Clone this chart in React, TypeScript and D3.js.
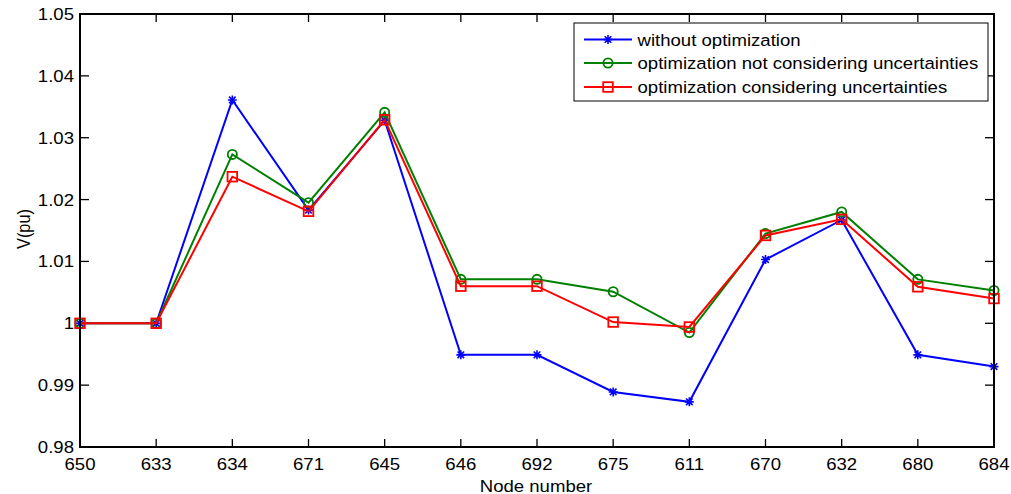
import React from "react";
import * as d3 from "d3";

const nodes = ["650", "633", "634", "671", "645", "646", "692", "675", "611", "670", "632", "680", "684"];
const withoutOpt = [1.0, 1.0, 1.0361, 1.0183, 1.0328, 0.9949, 0.9949, 0.9889, 0.9873, 1.0103, 1.0167, 0.9949, 0.993];
const optNoUnc = [1.0, 1.0, 1.0273, 1.0195, 1.0341, 1.0071, 1.0071, 1.0051, 0.9985, 1.0145, 1.018, 1.0071, 1.0053];
const optUnc = [1.0, 1.0, 1.0237, 1.0181, 1.0329, 1.006, 1.006, 1.0002, 0.9994, 1.0142, 1.0168, 1.0059, 1.004];
const yTicks = [0.98, 0.99, 1.0, 1.01, 1.02, 1.03, 1.04, 1.05];
const yTickLabels = ["0.98", "0.99", "1", "1.01", "1.02", "1.03", "1.04", "1.05"];
const seriesNames = ["without optimization", "optimization not considering uncertainties", "optimization considering uncertainties"];

const W = 1011;
const H = 494;
const left = 80, right = 994, top = 14, bottom = 447;
const FONT = "'Liberation Sans', Arial, sans-serif";
const SX = 1.14; // picture is stretched sideways

const x = d3.scalePoint<string>().domain(nodes).range([left, right]);
const y = d3.scaleLinear().domain([0.98, 1.05]).range([bottom, top]);

const series = [
  { name: seriesNames[0], values: withoutOpt, color: "#0000ff", marker: "star" },
  { name: seriesNames[1], values: optNoUnc, color: "#008000", marker: "circle" },
  { name: seriesNames[2], values: optUnc, color: "#ff0000", marker: "square" },
];

const Marker = ({ kind, cx, cy, color }: { kind: string; cx: number; cy: number; color: string }) => {
  if (kind === "circle") return <circle cx={cx} cy={cy} r={4.6} fill="none" stroke={color} strokeWidth={1.8} />;
  if (kind === "square") return <rect x={cx - 4.8} y={cy - 4.8} width={9.6} height={9.6} fill="none" stroke={color} strokeWidth={1.8} />;
  const s = 4.5, d = 3.3;
  return (
    <path
      d={`M${cx - s},${cy}H${cx + s}M${cx},${cy - s}V${cy + s}M${cx - d},${cy - d}L${cx + d},${cy + d}M${cx - d},${cy + d}L${cx + d},${cy - d}`}
      stroke={color}
      strokeWidth={1.6}
      fill="none"
    />
  );
};

const Label = ({ tx, ty, anchor, rotate, size, children }: any) => (
  <g transform={`translate(${tx},${ty}) scale(${SX},1)${rotate ? " rotate(-90)" : ""}`}>
    <text textAnchor={anchor} fontFamily={FONT} fontSize={size} fill="#000">{children}</text>
  </g>
);

export default function App() {
  const line = d3.line<number>().x((_, i) => x(nodes[i]) as number).y((d) => y(d));
  const tickLen = 9;
  const legendRows = [39.5, 63, 87];

  return (
    <svg width={W} height={H} style={{ position: "absolute", left: 0, top: 0, background: "#fff" }}>
      <rect x={0} y={0} width={W} height={H} fill="#fff" />

      {/* ticks, inside on all four sides */}
      <g stroke="#000" strokeWidth={1.3}>
        {nodes.map((n) => (
          <g key={n}>
            <line x1={x(n)} x2={x(n)} y1={bottom} y2={bottom - 8} />
            <line x1={x(n)} x2={x(n)} y1={top} y2={top + 8} />
          </g>
        ))}
        {yTicks.map((t) => (
          <g key={t}>
            <line x1={left} x2={left + tickLen} y1={y(t)} y2={y(t)} />
            <line x1={right} x2={right - tickLen} y1={y(t)} y2={y(t)} />
          </g>
        ))}
      </g>

      {series.map((s) => (
        <g key={s.name}>
          <path d={line(s.values) || ""} fill="none" stroke={s.color} strokeWidth={2} />
          {s.values.map((v, i) => (
            <Marker key={i} kind={s.marker} cx={x(nodes[i]) as number} cy={y(v)} color={s.color} />
          ))}
        </g>
      ))}

      <rect x={left} y={top} width={right - left} height={bottom - top} fill="none" stroke="#000" strokeWidth={2} />

      {yTicks.map((t, i) => (
        <Label key={t} tx={74} ty={y(t) + 6} anchor="end" size={16.3}>{yTickLabels[i]}</Label>
      ))}
      {nodes.map((n) => (
        <Label key={n} tx={x(n)} ty={469.5} anchor="middle" size={16.3}>{n}</Label>
      ))}
      <Label tx={536} ty={491.5} anchor="middle" size={16.3}>Node number</Label>
      <Label tx={29.5} ty={229} anchor="middle" size={16.3} rotate>V(pu)</Label>

      {/* legend */}
      <rect x={574} y={23} width={414} height={78} fill="#fff" stroke="#000" strokeWidth={1} />
      {series.map((s, i) => (
        <g key={s.name}>
          <line x1={584} x2={632} y1={legendRows[i]} y2={legendRows[i]} stroke={s.color} strokeWidth={2} />
          <Marker kind={s.marker} cx={608} cy={legendRows[i]} color={s.color} />
          <Label tx={637.5} ty={legendRows[i] + 6} anchor="start" size={16.3}>{s.name}</Label>
        </g>
      ))}
    </svg>
  );
}
